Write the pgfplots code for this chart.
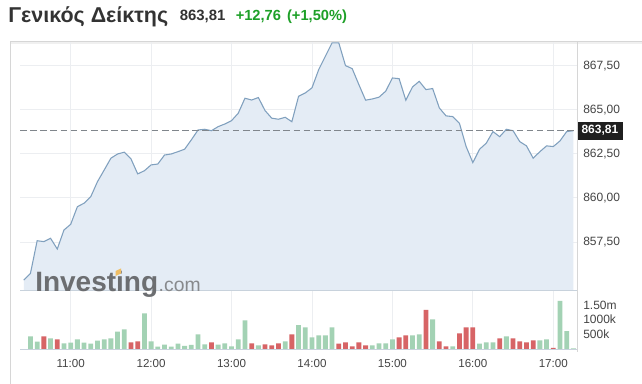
\documentclass[border=0pt]{standalone}
\usepackage{pgfplots}
\pgfplotsset{compat=1.18}
\usepackage{fontspec}
\setmainfont{Liberation Sans}
\definecolor{linec}{RGB}{128,160,190}
\definecolor{fillc}{RGB}{228,236,245}
\definecolor{gridc}{RGB}{236,238,241}
\definecolor{dashc}{RGB}{128,134,140}
\definecolor{volg}{RGB}{163,210,180}
\definecolor{volr}{RGB}{215,100,102}
\definecolor{titlec}{RGB}{51,51,51}
\definecolor{greenc}{RGB}{30,160,40}
\definecolor{labc}{RGB}{68,68,68}
\definecolor{framec}{RGB}{214,214,214}
\definecolor{basec}{RGB}{200,210,220}
\definecolor{wmc}{RGB}{108,110,113}
\definecolor{wmc2}{RGB}{135,137,140}
\definecolor{wmy}{RGB}{240,190,100}

\pgfplotstableread{
t v
625 855.34
630 855.72
635 857.57
640 857.52
645 857.71
650 857.10
655 858.18
660 858.50
665 859.50
670 859.70
675 860.07
680 860.92
685 861.58
690 862.25
695 862.49
700 862.59
705 862.21
710 861.36
715 861.54
720 861.87
725 861.92
730 862.43
735 862.49
740 862.62
745 862.76
750 863.29
755 863.85
760 863.89
765 863.81
770 864.04
775 864.19
780 864.38
785 864.80
790 865.65
795 865.55
800 865.69
805 864.95
810 864.52
815 864.46
820 864.57
825 864.32
830 865.76
835 865.95
840 866.24
845 867.27
850 868.03
855 868.79
860 868.79
865 867.50
870 867.33
875 866.42
880 865.54
885 865.61
890 865.71
895 866.05
900 866.80
905 866.76
910 865.54
915 866.29
920 866.61
925 866.14
930 866.20
935 865.10
940 864.65
945 864.61
950 864.23
955 862.91
960 862.00
965 862.76
970 863.10
975 863.76
980 863.47
985 863.89
990 863.81
995 863.19
1000 862.95
1005 862.25
1010 862.62
1015 862.95
1020 862.91
1025 863.23
1030 863.76
1035 863.81
}\price

\pgfplotstableread{
t v
630 431000
635 249000
645 363000
655 193000
660 215000
665 329000
670 215000
675 181000
680 283000
685 329000
690 363000
695 589000
700 669000
715 1213000
720 261000
725 79000
730 147000
735 79000
740 181000
745 102000
750 136000
755 499000
760 159000
770 147000
775 193000
780 91000
785 329000
790 975000
800 125000
820 261000
830 811000
835 737000
840 397000
845 465000
850 465000
855 737000
885 125000
890 193000
895 193000
900 329000
915 465000
920 499000
930 1009000
945 91000
965 181000
970 227000
975 227000
985 431000
1010 295000
1015 329000
1025 1633000
1030 612000
1035 23000
}\volgreen

\pgfplotstableread{
t v
640 431000
650 329000
705 227000
710 261000
765 227000
795 193000
805 159000
810 125000
815 193000
825 499000
860 181000
865 227000
870 91000
875 227000
880 125000
905 397000
910 465000
925 1327000
935 261000
940 91000
950 533000
955 737000
960 737000
980 363000
990 363000
995 261000
1000 227000
1005 295000
1020 34000
}\volred

\begin{document}
\begin{tikzpicture}[x=0.75pt,y=0.75pt]
\path[use as bounding box, fill=white] (0,0) rectangle (642,384);

% title
\node[anchor=base west, inner sep=0, font=\fontsize{16.1}{19}\selectfont\bfseries, text=titlec] at (8,361.3) {Γενικός Δείκτης};
\node[anchor=base west, inner sep=0, font=\fontsize{11.2}{13}\selectfont\bfseries, text=titlec] at (179.5,363.3) {863,81};
\node[anchor=base west, inner sep=0, font=\fontsize{11}{13}\selectfont\bfseries, text=greenc] at (235.5,363.3) {+12,76\hspace{1.5pt} (+1,50\%)};

% frame
\draw[framec, line width=0.75pt] (10,0) -- (10,342) -- (642,342);
\draw[black!6, line width=1.5pt] (11,340.6) -- (642,340.6);

% price axis
\begin{axis}[at={(15pt,69.75pt)}, anchor=south west, scale only axis,
  width=417.75pt, height=186.75pt,
  xmin=622.2, xmax=1037.7, ymin=854.72, ymax=868.84,
  axis line style={draw=none}, tick style={draw=none},
  xtick={660,720,780,840,900,960,1020}, xticklabels={},
  ytick={857.5,860,862.5,865,867.5},
  yticklabels={{857,50},{860,00},{862,50},{865,00},{867,50}},
  yticklabel pos=right,
  yticklabel style={inner sep=0pt, anchor=west, xshift=4.5pt, font=\fontsize{9}{10}\selectfont, text=labc},
  grid=major, major grid style={color=gridc, line width=0.6pt},
  clip=false]
\addplot[fill=fillc, draw=none] table[x=t,y=v] {\price} \closedcycle;
\addplot[color=linec, line width=0.8pt] table[x=t,y=v] {\price};
\addplot[color=dashc, line width=1.1pt, dash pattern=on 5pt off 2.6pt] coordinates {(622.2,863.81) (1037.7,863.81)};
\node[anchor=west, fill=black!88, text=white, font=\fontsize{9}{10}\selectfont\bfseries, inner xsep=3.2pt, inner ysep=0pt, minimum height=13.3pt] at (axis cs:1037.7,863.81) {863,81};
\end{axis}

% volume axis
\begin{axis}[at={(15pt,26.25pt)}, anchor=south west, scale only axis,
  width=417.75pt, height=43.5pt,
  xmin=622.2, xmax=1037.7, ymin=0, ymax=1972600,
  axis line style={draw=none}, tick style={draw=none},
  scaled y ticks=false,
  xtick={660,720,780,840,900,960,1020},
  xticklabels={11:00,12:00,13:00,14:00,15:00,16:00,17:00},
  xticklabel style={inner sep=0pt, anchor=north, yshift=-7.6pt, font=\fontsize{8.7}{10}\selectfont, text=labc},
  ytick={500000,1000000,1500000},
  yticklabels={500k,1000k,1.50m},
  yticklabel pos=right,
  yticklabel style={inner sep=0pt, anchor=west, xshift=4.5pt, font=\fontsize{9}{10}\selectfont, text=labc},
  xmajorgrids=true, ymajorgrids=false, major grid style={color=gridc, line width=0.6pt}]
\addplot[ybar, bar width=3.6pt, bar shift=0pt, fill=volg, draw=none] table[x=t,y=v] {\volgreen};
\addplot[ybar, bar width=3.6pt, bar shift=0pt, fill=volr, draw=none] table[x=t,y=v] {\volred};
\end{axis}

% lines
\draw[basec, line width=0.75pt] (20,93) -- (577,93);
\draw[basec, line width=0.6pt] (20,35) -- (577,35);
\draw[framec, line width=0.75pt] (577,342) -- (577,32);

% watermark
\node[anchor=base west, inner sep=0, font=\fontsize{21}{24}\selectfont\bfseries, text=wmc] (inv) at (35,92.3) {Investing};
\node[anchor=base west, inner sep=0, font=\fontsize{14.5}{16}\selectfont, text=wmc2] at (inv.base east) {.com};
\fill[wmy] (115.5,108) -- (121,110.5) -- (121,115.5) -- (115.5,113) -- cycle;
\end{tikzpicture}
\end{document}
